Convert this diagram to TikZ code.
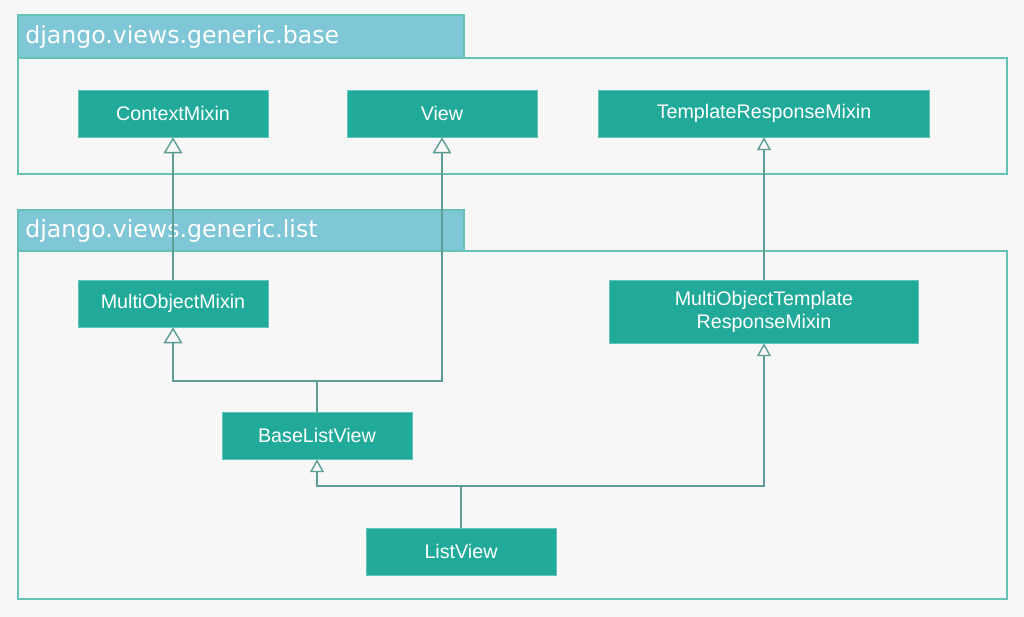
\documentclass[tikz,border=0pt]{standalone}
\usepackage{fontspec}
\setmainfont{Liberation Sans}
\newfontfamily\pkgfont{DejaVu Sans}
\usetikzlibrary{arrows.meta}
\definecolor{bgcol}{HTML}{F7F7F7}
\definecolor{clsfill}{HTML}{21AA99}
\definecolor{tabfill}{HTML}{7FC6D6}
\definecolor{pkgline}{HTML}{66C2B5}
\definecolor{linkcol}{HTML}{5A9E96}
\begin{document}
\begin{tikzpicture}[x=0.025cm,y=-0.025cm,
    cls/.style={rectangle,fill=clsfill,draw=clsfill!70!white,line width=0.5pt,text=white,
      minimum width=4.75cm,minimum height=1.175cm,inner sep=0pt,align=center,
      font=\fontsize{14}{16.4}\selectfont},
    pkg/.style={draw=pkgline,line width=1pt},
    pkgtab/.style={fill=tabfill,draw=pkgline,line width=1pt},
    pkgname/.style={anchor=west,text=white,inner sep=0pt,font=\pkgfont\fontsize{16.8}{19}\selectfont},
    link/.style={draw=linkcol,line width=1pt},
    bigtip/.style={-{Triangle[open,length=0.4cm,width=0.47cm]}},
    smalltip/.style={-{Triangle[open,length=0.32cm,width=0.35cm]}}]
    \fill[bgcol] (0,0) rectangle (1024,617);
    % packages
    \draw[pkg] (18,58) rectangle (1007,174);
    \draw[pkgtab] (18,15) rectangle (464,58);
    \node[pkgname] (base) at (25,37) {django.views.generic.base};
    \draw[pkg] (18,251) rectangle (1007,599);
    \draw[pkgtab] (18,210) rectangle (464,251);
    \node[pkgname] (list) at (25,231) {django.views.generic.list};
    % classes
    \node[cls] (ctx) at (173,113.5) {ContextMixin};
    \node[cls] (view) at (442,113.5) {View};
    \node[cls,minimum width=8.275cm] (trm) at (764,113.5) {TemplateResponseMixin};
    \node[cls] (mom) at (173,303.5) {MultiObjectMixin};
    \node[cls,minimum width=7.725cm,minimum height=1.575cm] (motrm) at (764,311.5) {MultiObjectTemplate\\ResponseMixin};
    \node[cls] (blv) at (317,435.5) {BaseListView};
    \node[cls] (lv) at (461,551.5) {ListView};
    % inheritance
    \coordinate (j1) at (317,381);
    \coordinate (j2) at (461,486);
    \draw[link,bigtip] (mom) -- (ctx);
    \draw[link,smalltip] (motrm) -- (trm);
    \draw[link] (blv) -- (j1);
    \draw[link,bigtip] (j1) -| (mom);
    \draw[link,bigtip] (j1) -| (view);
    \draw[link] (lv) -- (j2);
    \draw[link,smalltip] (j2) -| (blv);
    \draw[link,smalltip] (j2) -| (motrm);
\end{tikzpicture}
\end{document}
